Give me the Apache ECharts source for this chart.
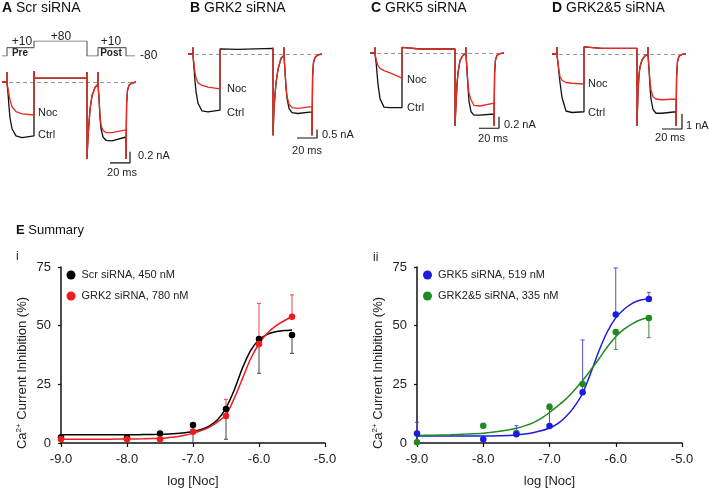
<!DOCTYPE html>
<html><head><meta charset="utf-8">
<script src="https://cdn.jsdelivr.net/npm/echarts@6/dist/echarts.min.js"></script>
<style>html,body{margin:0;padding:0;background:#fff}#c{width:709px;height:488px}</style>
</head><body><div id="c"></div>
<script>
// ---------- Summary (E) data ----------
const logNoc = [-9, -8, -7.5, -7, -6.5, -6, -5.5];
const scrMean   = [2.4, 2.2, 4.1, 7.7, 14.5, 44.3, 46.0];
const scrSem    = [0, 0, 0, 7.5, 12.9, 14.6, 7.8];
const grk2Mean  = [1.6, 1.6, 1.6, 4.8, 11.5, 42.2, 53.8];
const grk2Sem   = [0, 0, 0, 0, 7.1, 17.3, 9.3];
const grk5Mean  = [4.1, 1.6, 3.7, 7.2, 21.6, 54.8, 61.4];
const grk5Sem   = [4.7, 0, 3.7, 9.4, 22.3, 19.8, 2.8];
const grk25Mean = [0.3, 7.4, 4.3, 15.3, 25.1, 47.3, 53.3];
const grk25Sem  = [0, 0, 0, 0, 0, 7.4, 8.4];

// fitted curves
const fitX     = [-9, -8.75, -8.5, -8.25, -8, -7.75, -7.5, -7.375, -7.25, -7.125, -7, -6.875, -6.75, -6.625, -6.5, -6.375, -6.25, -6.125, -6, -5.875, -5.75, -5.625, -5.5];
const scrFit   = [3.5, 3.5, 3.5, 3.5, 3.5, 3.6, 3.7, 3.8, 4.0, 4.4, 4.9, 5.8, 7.3, 10.0, 15.0, 22.6, 32.0, 39.5, 44.0, 46.3, 47.4, 47.9, 48.2];
const grk2Fit  = [1.6, 1.6, 1.6, 1.65, 1.7, 1.8, 2.0, 2.3, 2.7, 3.3, 4.2, 5.3, 6.8, 9.0, 12.0, 19.0, 27.5, 36.0, 42.3, 46.8, 49.8, 52.0, 53.8];
const grk5Fit  = [3.0, 3.0, 3.0, 3.0, 3.0, 3.1, 3.4, 3.8, 4.4, 5.2, 6.4, 8.3, 11.3, 15.5, 21.2, 30.0, 39.5, 47.5, 53.3, 57.0, 59.5, 60.9, 61.6];
const grk25Fit = [3.2, 3.3, 3.5, 3.8, 4.2, 5.0, 6.3, 7.3, 8.6, 10.5, 13.0, 15.8, 18.8, 22.5, 26.6, 31.2, 36.0, 41.0, 45.3, 48.5, 50.8, 52.5, 53.6];

const yTicks = [0, 25, 50, 75];

// ---------- Current traces (A-D), time in ms, current in nA ----------
const traceTime = [0,5,5,5,6,7,8,10,14,20,32,32,32.5,50,85,85,85,86,87,88,90,93,96,96,96,97,98,99,101,104,110,124,124,124.6,125.5,127,130,134];
const ctrlA = [0,0,0.18,-0.03,-0.2,-0.45,-0.65,-0.85,-0.98,-1.01,-0.98,0.2,0.07,0.07,0.07,0.18,-1.4,-1.0,-0.75,-0.5,-0.25,-0.1,-0.04,0.18,-0.03,-0.3,-0.65,-0.85,-1.0,-1.06,-1.07,-1.0,-1.4,-0.4,-0.15,-0.06,-0.02,0];
const nocA  = [0,0,0.18,-0.03,-0.12,-0.22,-0.32,-0.45,-0.54,-0.58,-0.6,0.2,0.07,0.07,0.07,0.18,-1.4,-1.0,-0.75,-0.5,-0.25,-0.1,-0.04,0.18,-0.03,-0.3,-0.6,-0.78,-0.88,-0.92,-0.92,-0.87,-1.4,-0.4,-0.15,-0.06,-0.02,0];
const ctrlB = [0,0,0.4,-0.1,-0.8,-1.6,-2.2,-2.9,-3.35,-3.4,-3.3,0.3,0.25,0.27,0.33,0.4,-4.8,-3.2,-2.4,-1.7,-0.9,-0.25,-0.08,0.4,-0.1,-1.0,-2.0,-2.6,-3.2,-3.45,-3.5,-3.4,-4.8,-1.3,-0.5,-0.2,-0.05,0];
const nocB  = [0,0,0.4,-0.1,-0.6,-1.1,-1.4,-1.7,-1.85,-1.95,-2.05,0.3,null,null,null,0.4,-4.8,-3.2,-2.4,-1.7,-0.9,-0.25,-0.08,0.4,-0.1,-1.0,-1.9,-2.5,-2.95,-3.15,-3.2,-3.1,-4.8,-1.3,-0.5,-0.2,-0.05,0];
const ctrlC = [0,0,0.1,-0.02,-0.15,-0.35,-0.55,-0.8,-0.95,-0.96,-0.96,0.1,0.07,0.07,0.07,0.1,-1.28,-0.9,-0.55,-0.35,-0.13,-0.04,-0.01,0.1,-0.02,-0.3,-0.6,-0.85,-1.03,-1.09,-1.09,-1.07,-1.28,-0.35,-0.12,-0.04,-0.01,0];
const nocC  = [0,0,0.1,-0.02,-0.1,-0.17,-0.22,-0.27,-0.31,-0.35,-0.44,0.1,0.07,0.07,0.07,0.1,-1.28,-0.9,-0.55,-0.35,-0.13,-0.04,-0.01,0.1,-0.02,-0.3,-0.55,-0.7,-0.82,-0.92,-0.93,-0.88,-1.28,-0.35,-0.12,-0.04,-0.01,0];
const ctrlD = [0,0,0.47,-0.1,-0.6,-1.3,-1.9,-2.9,-3.8,-3.9,-3.85,0.47,0.38,0.38,0.38,0.47,-4.8,-2.5,-1.4,-0.85,-0.4,-0.12,-0.03,0.47,-0.1,-1.0,-2.2,-3.0,-3.7,-3.95,-3.95,-3.85,-4.8,-1.5,-0.5,-0.15,-0.03,0];
const nocD  = [0,0,0.47,-0.1,-0.6,-1.1,-1.5,-1.75,-1.9,-1.95,-2.0,0.47,0.38,0.38,0.38,0.47,-4.8,-2.5,-1.4,-0.85,-0.4,-0.12,-0.03,0.47,-0.1,-0.9,-1.8,-2.4,-2.85,-3.0,-3.05,-3.0,-4.8,-1.5,-0.5,-0.15,-0.03,0];

// voltage protocol (ms, mV)
const protocolTime = [0, 5, 5, 32, 32, 85, 85, 96, 96, 124, 124, 133];
const protocolMV   = [-80, -80, 10, 10, 80, 80, -80, -80, 10, 10, -80, -80];

const scaleTime = 20; // ms
const scaleAmp = [0.2, 0.5, 0.2, 1]; // nA

// ---------- layout ----------
const FONT = "'Liberation Sans', Arial, Helvetica, sans-serif";
const RED = '#ea2a20', BLACK = '#111111';
const panels = [
  {x0: 2,   y0: 82, k: 55, yMin: -1.6, yMax: 0.5, ctrl: ctrlA, noc: nocA, barT: 108, barV: -1.47},
  {x0: 188, y0: 54, k: 17, yMin: -5.5, yMax: 1.0, ctrl: ctrlB, noc: nocB, barT: 109, barV: -4.94},
  {x0: 370, y0: 53, k: 57, yMin: -1.6, yMax: 0.3, ctrl: ctrlC, noc: nocC, barT: 109, barV: -1.32},
  {x0: 552, y0: 54, k: 15, yMin: -6.0, yMax: 1.0, ctrl: ctrlD, noc: nocD, barT: 110, barV: -5.0}
];

const grids = [], xAxes = [], yAxes = [], series = [];

// protocol grid (index 0)
grids.push({left: 2, top: 41, width: 134, height: 15, outerBoundsMode: 'none'});
xAxes.push({type: 'value', gridIndex: 0, min: 0, max: 134, show: false});
yAxes.push({type: 'value', gridIndex: 0, min: -80, max: 80, show: false});
series.push({type: 'line', xAxisIndex: 0, yAxisIndex: 0, symbol: 'none',
  lineStyle: {color: '#666', width: 1.2},
  data: protocolTime.map((t, i) => [t, protocolMV[i]])});

panels.forEach((p, pi) => {
  const gi = pi + 1;
  grids.push({left: p.x0, width: 134, top: p.y0 - p.yMax * p.k, height: (p.yMax - p.yMin) * p.k, outerBoundsMode: 'none'});
  xAxes.push({type: 'value', gridIndex: gi, min: 0, max: 134, show: false});
  yAxes.push({type: 'value', gridIndex: gi, min: p.yMin, max: p.yMax, show: false});
  const toData = arr => traceTime.map((t, i) => [t, arr[i] === null ? '-' : arr[i]]);
  series.push({type: 'line', xAxisIndex: gi, yAxisIndex: gi, symbol: 'none', z: 2,
    lineStyle: {color: BLACK, width: 1.3}, data: toData(p.ctrl),
    markLine: {silent: true, symbol: 'none', label: {show: false}, z: 1,
      lineStyle: {type: [4, 3], color: '#999', width: 1}, data: [{yAxis: 0}]}});
  series.push({type: 'line', xAxisIndex: gi, yAxisIndex: gi, symbol: 'none', z: 3,
    connectNulls: false, lineStyle: {color: RED, width: 1.3}, data: toData(p.noc)});
  series.push({type: 'line', xAxisIndex: gi, yAxisIndex: gi, symbol: 'none', z: 3,
    lineStyle: {color: BLACK, width: 1.2},
    data: [[p.barT, p.barV], [p.barT + scaleTime, p.barV], [p.barT + scaleTime, p.barV + scaleAmp[pi]]]});
});

// summary grids (5: i, 6: ii)
const sumGrids = [{left: 61, width: 264}, {left: 417, width: 265}];
sumGrids.forEach((g, j) => {
  const gi = 5 + j;
  grids.push({left: g.left, width: g.width, top: 267, height: 176, outerBoundsMode: 'none'});
  xAxes.push({type: 'value', gridIndex: gi, min: -9, max: -5, interval: 1,
    axisLine: {show: true, lineStyle: {color: '#111', width: 1.5}},
    axisTick: {show: true, length: 4, lineStyle: {color: '#111', width: 1.2}},
    axisLabel: {formatter: v => v.toFixed(1), fontSize: 13, color: '#222', margin: 10, fontFamily: FONT},
    splitLine: {show: false},
    name: 'log [Noc]', nameLocation: 'middle', nameGap: 32,
    nameTextStyle: {fontSize: 13, color: '#222', fontFamily: FONT}});
  yAxes.push({type: 'value', gridIndex: gi, min: yTicks[0], max: yTicks[yTicks.length - 1], interval: 25,
    axisLine: {show: true, lineStyle: {color: '#111', width: 1.5}},
    axisTick: {show: true, length: 3, lineStyle: {color: '#111', width: 1.2}},
    axisLabel: {fontSize: 13, color: '#222', margin: 10, fontFamily: FONT},
    splitLine: {show: false}});
});

function fitSeries(gi, ys, color) {
  return {type: 'line', xAxisIndex: gi, yAxisIndex: gi, symbol: 'none', smooth: 0.3, z: 2,
    lineStyle: {color: color, width: 1.5}, data: fitX.map((x, i) => [x, ys[i]])};
}
function pointSeries(gi, name, ys, color) {
  return {type: 'scatter', name: name, xAxisIndex: gi, yAxisIndex: gi, symbolSize: 6.5, z: 4,
    itemStyle: {color: color, opacity: 1}, data: logNoc.map((x, i) => [x, ys[i]])};
}
function errSeries(gi, mean, sem, dir, color) {
  const data = [];
  logNoc.forEach((x, i) => { if (sem[i] > 0) data.push([x, mean[i], mean[i] + dir * sem[i]]); });
  return {type: 'custom', xAxisIndex: gi, yAxisIndex: gi, z: 3, encode: {x: 0, y: [1, 2]}, data: data,
    renderItem: (params, api) => {
      const p0 = api.coord([api.value(0), api.value(1)]);
      const p1 = api.coord([api.value(0), api.value(2)]);
      return {type: 'group', children: [
        {type: 'line', shape: {x1: p0[0], y1: p0[1], x2: p1[0], y2: p1[1]}, style: {stroke: color, lineWidth: 1}},
        {type: 'line', shape: {x1: p1[0] - 2, y1: p1[1], x2: p1[0] + 2, y2: p1[1]}, style: {stroke: color, lineWidth: 1}}
      ]};
    }};
}

const C_BLACK = '#000000', C_RED = '#f01c1c', C_BLUE = '#1c1ce0', C_GREEN = '#1f8a1f';
series.push(errSeries(5, scrMean, scrSem, -1, '#444'));
series.push(errSeries(5, grk2Mean, grk2Sem, 1, '#e04848'));
series.push(fitSeries(5, scrFit, C_BLACK));
series.push(fitSeries(5, grk2Fit, C_RED));
series.push(pointSeries(5, 'Scr siRNA, 450 nM', scrMean, C_BLACK));
series.push(pointSeries(5, 'GRK2 siRNA, 780 nM', grk2Mean, C_RED));

series.push(errSeries(6, grk5Mean, grk5Sem, 1, '#5050d0'));
series.push(errSeries(6, grk25Mean, grk25Sem, -1, '#3c8c3c'));
series.push(fitSeries(6, grk5Fit, C_BLUE));
series.push(fitSeries(6, grk25Fit, C_GREEN));
series.push(pointSeries(6, 'GRK2&5 siRNA, 335 nM', grk25Mean, C_GREEN));
series.push(pointSeries(6, 'GRK5 siRNA, 519 nM', grk5Mean, C_BLUE));

function legend(left, names) {
  return {data: names, orient: 'vertical', left: left, top: 269.5, padding: 0, itemWidth: 9, itemHeight: 9,
    icon: 'circle', itemGap: 10, selectedMode: false,
    textStyle: {fontSize: 11, color: '#222', fontFamily: FONT, padding: [0, 0, 0, 1]}};
}

function txt(x, y, text, opts) {
  return {type: 'text', x: x, y: y, silent: true, rotation: (opts && opts.rotation) || 0,
    style: Object.assign({text: text, fill: '#222', font: '11px ' + FONT, textAlign: 'left', textVerticalAlign: 'middle'}, (opts && opts.style) || {})};
}
function title(x, y, letter, rest, size) {
  return {type: 'text', x: x, y: y, silent: true,
    style: {text: '{b|' + letter + '} ' + rest, fill: '#111', font: size + 'px ' + FONT, textVerticalAlign: 'middle',
      rich: {b: {fontWeight: 'bold', fontSize: size, fontFamily: FONT, fill: '#111'}}}};
}
function yName(x, y) {
  return {type: 'text', x: x, y: y, silent: true, rotation: Math.PI / 2,
    style: {text: '{a|Ca}{s|2+}{a| Current Inhibition (%)}', fill: '#222', font: '13px ' + FONT,
      textAlign: 'center', textVerticalAlign: 'middle',
      rich: {a: {fontSize: 13, fontFamily: FONT, fill: '#222', lineHeight: 15},
             s: {fontSize: 8, fontFamily: FONT, fill: '#222', verticalAlign: 'top', lineHeight: 15}}}};
}

const graphics = [
  title(2, 8, 'A', 'Scr siRNA', 14),
  title(190, 8, 'B', 'GRK2 siRNA', 14),
  title(371, 8, 'C', 'GRK5 siRNA', 14),
  title(552, 8, 'D', 'GRK2&5 siRNA', 14),
  title(16, 230, 'E', 'Summary', 13),
  // protocol labels
  txt(22, 42, '+10', {style: {textAlign: 'center', font: '12px ' + FONT}}),
  txt(61, 37, '+80', {style: {textAlign: 'center', font: '12px ' + FONT}}),
  txt(111, 42, '+10', {style: {textAlign: 'center', font: '12px ' + FONT}}),
  txt(20, 53, 'Pre', {style: {textAlign: 'center', font: 'bold 10px ' + FONT}}),
  txt(111, 53, 'Post', {style: {textAlign: 'center', font: 'bold 10px ' + FONT}}),
  txt(140, 56, '-80', {style: {font: '12px ' + FONT}}),
  // trace labels
  txt(38, 113, 'Noc'), txt(38, 135, 'Ctrl'),
  txt(227, 89, 'Noc'), txt(227, 113, 'Ctrl'),
  txt(407, 80, 'Noc'), txt(407, 108, 'Ctrl'),
  txt(588, 84, 'Noc'), txt(588, 113, 'Ctrl'),
  // scale labels
  txt(138, 156, '0.2 nA'), txt(122, 173, '20 ms', {style: {textAlign: 'center'}}),
  txt(322, 135, '0.5 nA'), txt(307, 151, '20 ms', {style: {textAlign: 'center'}}),
  txt(504, 125, '0.2 nA'), txt(493, 139, '20 ms', {style: {textAlign: 'center'}}),
  txt(686, 126, '1 nA'), txt(670, 138, '20 ms', {style: {textAlign: 'center'}}),
  // summary sub labels
  txt(16, 257, 'i', {style: {font: '12px ' + FONT}}),
  txt(373, 258, 'ii', {style: {font: '12px ' + FONT}}),
  yName(22, 373),
  yName(378, 373)
];

const chart = echarts.init(document.getElementById('c'), null, {renderer: 'canvas'});
chart.setOption({
  animation: false,
  backgroundColor: '#fff',
  textStyle: {fontFamily: FONT},
  grid: grids, xAxis: xAxes, yAxis: yAxes, series: series,
  legend: [legend(66.5, ['Scr siRNA, 450 nM', 'GRK2 siRNA, 780 nM']),
           legend(423, ['GRK5 siRNA, 519 nM', 'GRK2&5 siRNA, 335 nM'])],
  graphic: graphics
});
</script></body></html>
